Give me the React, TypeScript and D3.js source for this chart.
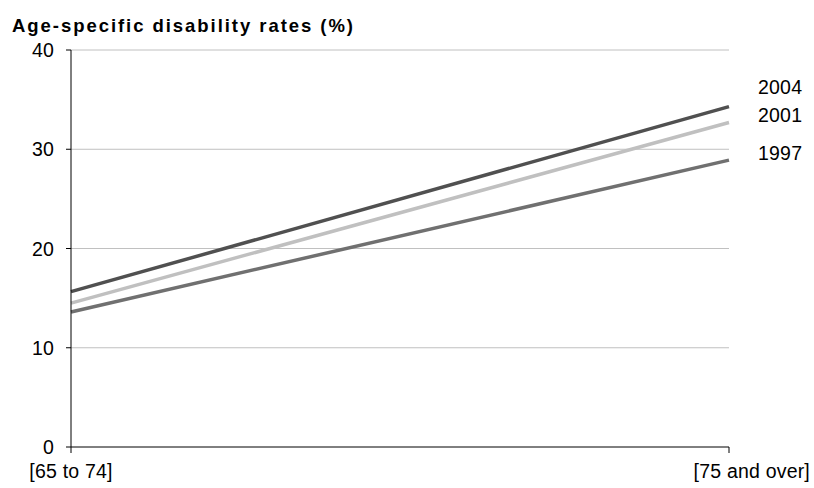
import React from "react";
import * as d3 from "d3";

const categories = ["[65 to 74]", "[75 and over]"];
const seriesNames = ["2004", "2001", "1997"];
const values2004 = [15.65, 34.3];
const values2001 = [14.5, 32.7];
const values1997 = [13.6, 28.9];
const yTicks = [0, 10, 20, 30, 40];

const W = 814;
const H = 488;
const FONT = "'Liberation Sans', Arial, sans-serif";
const LABEL_SIZE = 19.5;
const LABEL_SPACING = 0.2;

export default function App() {
  const x = d3.scalePoint<string>().domain(categories).range([71, 729]);
  const y = d3.scaleLinear().domain([0, 40]).range([447, 50]);

  const series = [
    { name: seriesNames[0], values: values2004, color: "#505050", labelY: 94 },
    { name: seriesNames[1], values: values2001, color: "#c0c0c0", labelY: 122 },
    { name: seriesNames[2], values: values1997, color: "#707070", labelY: 160 },
  ];

  const line = d3
    .line<number>()
    .x((_, i) => x(categories[i]) as number)
    .y((d) => y(d));

  const x0 = x(categories[0]) as number;
  const x1 = x(categories[1]) as number;

  return (
    <svg
      width={W}
      height={H}
      style={{ position: "absolute", left: 0, top: 0, background: "#fff" }}
      fontFamily={FONT}
    >
      <text
        x={12}
        y={32}
        fontSize={18.5}
        fontWeight="bold"
        textLength={341}
        lengthAdjust="spacing"
        fill="#000"
      >
        Age-specific disability rates (%)
      </text>

      {yTicks
        .filter((t) => t > 0)
        .map((t) => (
          <line key={t} x1={x0} x2={x1} y1={y(t)} y2={y(t)} stroke="#c0c0c0" strokeWidth={1} />
        ))}

      {series.map((s) => (
        <path
          key={s.name}
          d={line(s.values) || ""}
          fill="none"
          stroke={s.color}
          strokeWidth={3.5}
        />
      ))}

      <line x1={x0} x2={x0} y1={y(40)} y2={y(0)} stroke="#000" strokeWidth={1} />
      <line x1={x0} x2={x1} y1={y(0)} y2={y(0)} stroke="#000" strokeWidth={1} />
      {yTicks.map((t) => (
        <g key={t}>
          <line x1={x0 - 5} x2={x0} y1={y(t)} y2={y(t)} stroke="#000" />
          <text
            x={54}
            y={y(t) + 7}
            fontSize={LABEL_SIZE}
            letterSpacing={LABEL_SPACING}
            textAnchor="end"
            fill="#000"
          >
            {t}
          </text>
        </g>
      ))}
      {categories.map((c) => (
        <line key={c} x1={x(c)} x2={x(c)} y1={y(0)} y2={y(0) + 6} stroke="#000" />
      ))}
      <text
        x={x0}
        y={478}
        fontSize={LABEL_SIZE}
        letterSpacing={LABEL_SPACING}
        textAnchor="middle"
        fill="#000"
      >
        {categories[0]}
      </text>
      <text
        x={810}
        y={478}
        fontSize={LABEL_SIZE}
        letterSpacing={LABEL_SPACING}
        textAnchor="end"
        fill="#000"
      >
        {categories[1]}
      </text>

      {series.map((s) => (
        <text
          key={s.name}
          x={758}
          y={s.labelY}
          fontSize={LABEL_SIZE}
          letterSpacing={LABEL_SPACING}
          fill="#000"
        >
          {s.name}
        </text>
      ))}
    </svg>
  );
}
